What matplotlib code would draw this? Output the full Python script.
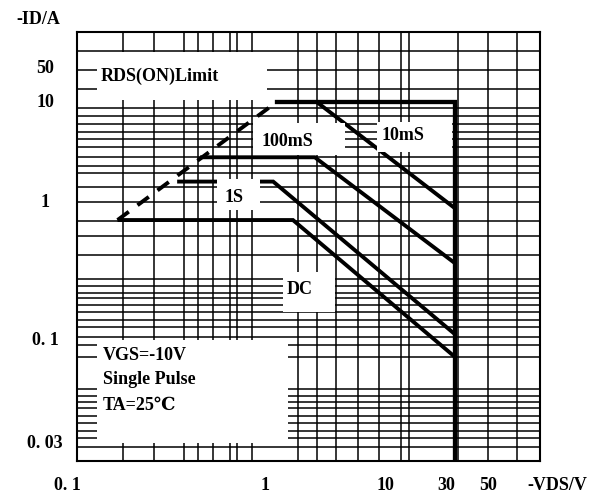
import numpy as np
import matplotlib
matplotlib.use("Agg")
import matplotlib.pyplot as plt
from matplotlib.patches import Rectangle
from matplotlib.transforms import Affine2D, blended_transform_factory

plt.rcParams['font.family'] = ['Liberation Serif', 'DejaVu Serif', 'DejaVu Sans']
plt.rcParams['font.weight'] = 'bold'

# safe operating area curves, -VDS in volts, -ID in amps
vds_rds = [0.18, 1.25]
id_rds = [0.74, 10]
vds_10ms = [2.7, 30]
id_10ms = [10, 0.9]
vds_100ms = [0.47, 2.6, 30]
id_100ms = [2.8, 2.8, 0.36]
vds_1s = [0.36, 1.17, 30]
id_1s = [1.6, 1.6, 0.11]
vds_dc = [0.18, 1.71, 30]
id_dc = [0.74, 0.74, 0.082]
vds_max = 30
id_max = 10

x_ticks = [0.1, 1, 10, 30, 50]
x_tick_labels = ["0. 1", "1", "10", "30", "50"]
y_ticks = [50, 10, 1, 0.1, 0.03]
y_tick_labels = ["50", "10", "1", "0. 1", "0. 03"]

# the printed grid is not a clean log grid, so the axes use a piecewise
# log scale pinned to where each decade sits on the sheet (pixels)
x_anchor_val = [0.1, 1, 10, 30, 50, 112]
x_anchor_px = [67, 265, 385, 455, 488, 540]
y_anchor_val = [0.0243, 0.03, 0.1, 1, 10, 50, 275]
y_anchor_px = [461, 443, 340, 202, 102, 68, 32]

W, H = 602, 497
left, right, top, bottom = 77, 540, 32, 461
v_grid = [123, 154, 184, 198, 213, 230, 237, 252, 298, 317, 336, 358,
          379, 401, 409, 458, 488, 517]
h_grid = [51, 70, 89, 108, 116, 124, 132, 139, 147, 157, 166, 173, 187,
          202, 221, 236, 255, 279, 286, 293, 298, 305, 312, 320, 327, 337,
          345, 357, 389, 396, 402, 408, 416, 423, 431, 438, 447]


def fwd_x(v):
    lv = np.log10(np.clip(v, 1e-12, None))
    return np.interp(lv, np.log10(x_anchor_val), x_anchor_px)


def inv_x(p):
    return 10 ** np.interp(p, x_anchor_px, np.log10(x_anchor_val))


def fwd_y(v):
    lv = np.log10(np.clip(v, 1e-12, None))
    return -np.interp(lv, np.log10(y_anchor_val), y_anchor_px)


def inv_y(p):
    return 10 ** np.interp(-np.asarray(p), y_anchor_px[::-1],
                           np.log10(y_anchor_val)[::-1])


fig = plt.figure(figsize=(W / 100, H / 100), dpi=100)
pix = Affine2D().scale(1 / W, -1 / H).translate(0, 1) + fig.transFigure

ax = fig.add_axes([left / W, 1 - bottom / H, (right - left) / W, (bottom - top) / H])
ax.set_xscale('function', functions=(fwd_x, inv_x))
ax.set_yscale('function', functions=(fwd_y, inv_y))
ax.set_xlim(inv_x(left), inv_x(right))
y_lo = inv_y(-bottom)
ax.set_ylim(y_lo, inv_y(-top))
ax.set_xticks([])
ax.set_yticks([])
ax.minorticks_off()
for sp in ax.spines.values():
    sp.set_linewidth(1.5)

# grid
for gx in v_grid:
    ax.plot([gx, gx], [top, bottom], transform=pix, color='k', lw=1.1, zorder=1)
for gy in h_grid:
    ax.plot([left, right], [gy, gy], transform=pix, color='k', lw=1.1, zorder=1)

# curves
lw = 2.8
ax.plot(vds_rds, id_rds, color='k', lw=lw, linestyle=(0, (3.6, 2.8)),
        dash_capstyle='butt', zorder=3)
ax.plot([vds_rds[-1], vds_max, vds_max], [id_max, id_max, y_lo],
        color='k', lw=3.1, solid_joinstyle='miter', zorder=3)
for xs, ys in [(vds_10ms, id_10ms), (vds_100ms, id_100ms),
               (vds_1s, id_1s), (vds_dc, id_dc)]:
    ax.plot(xs, ys, color='k', lw=lw, solid_capstyle='butt',
            solid_joinstyle='miter', zorder=3)

# white label boxes over the grid
boxes = [
    ((97, 52, 267, 100), "RDS(ON)Limit", (160, 76)),
    ((253, 123, 345, 155), "100mS", (287, 141)),
    ((377, 122, 452, 152), "10mS", (403, 136)),
    ((217, 179, 260, 210), "1S", (234, 197)),
    ((283, 272, 335, 312), "DC", (300, 289)),
]
for (x0, y0, x1, y1), label, (tx, ty) in boxes:
    ax.add_patch(Rectangle((x0, y0), x1 - x0, y1 - y0, transform=pix,
                           facecolor='white', edgecolor='none', zorder=4))
    ax.text(tx, ty, label, transform=pix, ha='center', va='center',
            fontsize=13, zorder=5)

ax.add_patch(Rectangle((97, 340), 191, 103, transform=pix,
                       facecolor='white', edgecolor='none', zorder=4))
for ty, line in zip([355, 380, 405], ["VGS=-10V", "Single Pulse", "TA=25℃"]):
    ax.text(103, ty, line, transform=pix, ha='left', va='center',
            fontsize=13, zorder=5)

# tick labels and axis titles
xt = blended_transform_factory(ax.transData, pix)
for v, s in zip(x_ticks, x_tick_labels):
    ax.text(v, 486, s, transform=xt, ha='right' if v == 30 else 'center',
            va='center', fontsize=13, clip_on=False)
yt = blended_transform_factory(pix, ax.transData)
for v, s in zip(y_ticks, y_tick_labels):
    ax.text(45, v, s, transform=yt, ha='center', va='center',
            fontsize=13, clip_on=False)

fig.text(38, 20, "-ID/A", transform=pix, ha='center', va='center', fontsize=13)
fig.text(557, 485, "-VDS/V", transform=pix, ha='center', va='center', fontsize=13)

fig.savefig("out.png", dpi=100, facecolor='white')
